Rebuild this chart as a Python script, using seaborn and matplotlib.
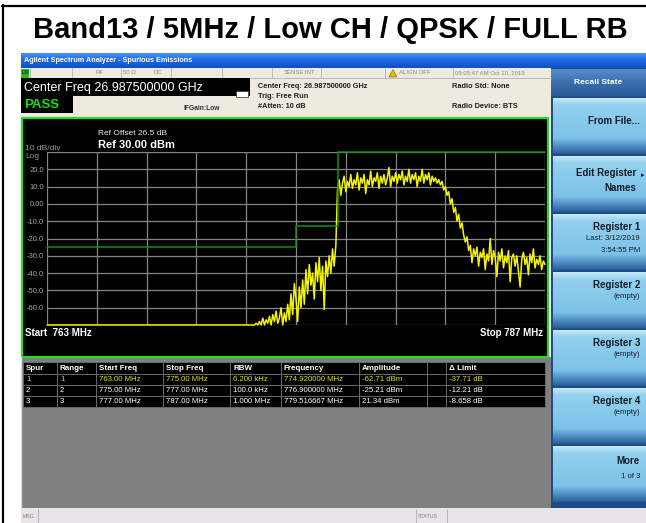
import matplotlib
matplotlib.use("Agg")
import matplotlib.pyplot as plt
from matplotlib.patches import Rectangle, Polygon
from matplotlib.colors import LinearSegmentedColormap
import numpy as np
import pandas as pd
import seaborn as sns

sns.set_style("white")
plt.rcParams['font.family'] = ['Liberation Sans', 'DejaVu Sans']

# ---- data ----
title = "Band13 / 5MHz / Low CH / QPSK / FULL RB"
start_mhz, stop_mhz = 763, 787
ref_dbm, bottom_dbm = 30, -70

# trace: flat at the screen bottom, then the rise, the channel top, the fall/tail
floor_mhz = [763.0, 773.0]
floor_dbm = [-70, -70]
rise_span = (773.0, 776.92)
rise_dbm = [-70, -69, -70, -68, -70, -66, -70, -67, -69, -65,
            -70, -64, -68, -62, -69, -66, -60, -70, -63, -68,
            -58, -67, -52, -64, -46, -55, -68, -48, -60, -44,
            -58, -38, -52, -35, -47, -40, -55, -34, -45, -31,
            -50, -36, -61, -33, -42, -30, -40, -26, -36, -24]
top_span = (777.0, 781.80)
top_dbm = [8, 14, 5, 12, 16, 7, 13, 10, 17, 9,
           14, 11, 18, 8, 15, 12, 17, 6, 14, 11,
           19, 10, 15, 13, 18, 9, 16, 12, 17, 11,
           15, 21, 10, 16, 13, 18, 12, 17, 14, 19,
           11, 16, 13, 20, 12, 17, 14, 18, 10, 16,
           13, 20, 12, 17, 14, 18, 11, 16, 13, 15,
           12]
tail_span = (781.88, 787.0)
tail_dbm = [14, 11, 13, 8, 10, 5, 7, 0, 3, -5,
            -2, -10, -6, -14, -11, -18, -22, -19, -27, -24,
            -34, -26, -30, -25, -36, -28, -31, -26, -38, -29,
            -33, -20, -35, -27, -31, -42, -28, -33, -26, -37,
            -30, -34, -27, -45, -31, -29, -36, -30, -39, -48,
            -32, -28, -35, -31, -41, -29, -34, -26, -37, -32,
            -35, -30, -38, -33, -35]

# limit line per range (dBm)
limit_mhz = [763, 775, 775, 777, 777, 787]
limit_dbm = [-25, -25, -13, -13, 30, 30]

ytick_vals = [20, 10, 0, -10, -20, -30, -40, -50, -60]
ytick_labels = ["20.0", "10.0", "0.00", "-10.0", "-20.0", "-30.0", "-40.0", "-50.0", "-60.0"]

table_cols = ["Spur", "Range", "Start Freq", "Stop Freq", "RBW", "Frequency", "Amplitude", "", "\u0394 Limit"]
table_rows = [
    ["1", "1", "763.00 MHz", "775.00 MHz", "6.200 kHz", "774.920000 MHz", "-62.71 dBm", "", "-37.71 dB"],
    ["2", "2", "775.00 MHz", "777.00 MHz", "100.0 kHz", "776.900000 MHz", "-25.21 dBm", "", "-12.21 dB"],
    ["3", "3", "777.00 MHz", "787.00 MHz", "1.000 MHz", "779.516667 MHz", "21.34 dBm", "", "-8.658 dB"],
]

softkeys = [["From File..."], ["Edit Register", "Names"],
            ["Register 1", "Last: 3/12/2019", "3:54:55 PM"],
            ["Register 2", "(empty)"], ["Register 3", "(empty)"],
            ["Register 4", "(empty)"], ["More", "1 of 3"]]

# ---- figure in screen pixels ----
W, H = 646, 523
fig = plt.figure(figsize=(W / 100, H / 100), dpi=100)
fig.patch.set_facecolor("white")
bg = fig.add_axes([0, 0, 1, 1])
bg.axis("off")


def box(x0, y0, x1, y1, fc, ec="none", lw=0, z=1):
    bg.add_patch(Rectangle((x0, y0), x1 - x0, y1 - y0, facecolor=fc, edgecolor=ec, lw=lw, zorder=z))


def grad(x0, y0, x1, y1, colors, z=1):
    cmap = LinearSegmentedColormap.from_list("g", colors)
    g = np.linspace(0, 1, 64).reshape(-1, 1)
    bg.imshow(g, cmap=cmap, extent=(x0, x1, y1, y0), aspect="auto", origin="upper",
              interpolation="bilinear", zorder=z)


def txt(x, y, s, size, color, weight="normal", ha="left", z=6):
    bg.text(x, y, s, fontsize=size, color=color, fontweight=weight, ha=ha, va="center", zorder=z)


# outer frame + title
bg.plot([2, W], [5.5, 5.5], color="black", lw=1.6, zorder=3)
bg.plot([2.5, 2.5], [5, H], color="black", lw=1.6, zorder=3)
txt(330, 30, title, 21, "black", "bold", "center")

# window title bar and status strip
grad(21, 53, W, 68, ["#4a94f4", "#1c66e0", "#0d52c6"])
txt(24, 60.5, "Agilent Spectrum Analyzer - Spurious Emissions", 5.2, "white", "bold")
box(21, 68, 551, 117, "#efeadf")
for sx in [30, 72, 121, 171, 222, 272, 321, 385, 453]:
    bg.plot([sx, sx], [68, 78], color="#b8b2a8", lw=0.6, zorder=2)
bg.plot([21, 551], [78, 78], color="#b8b2a8", lw=0.6, zorder=2)
box(21, 68.5, 29, 77.5, "#22c022", z=2)
txt(25, 73, "LXI", 3.5, "#103010", "bold", "center")
for sx, s in [(95, "RF"), (123, "50 \u03a9"), (154, "DC"), (284, "SENSE:INT"),
              (399, "ALIGN OFF"), (455, "09:05:47 AM Oct 10, 2019")]:
    txt(sx, 73, s, 4.3, "#8a8a8a")
bg.add_patch(Polygon([[389, 77], [397, 77], [393, 69.5]], closed=True, facecolor="#e0c000",
                     edgecolor="#806000", lw=0.4, zorder=3))

box(21, 78, 250, 96, "black", z=2)
txt(24, 87.5, "Center Freq 26.987500000 GHz", 9, "white")
box(21, 96, 73, 113, "black", z=2)
txt(24, 105, "PASS", 9.5, "#10e010", "bold")
txt(183, 109, "IFGain:Low", 4.8, "#303030", "bold")
box(236, 91, 248, 97, "white", "#404040", 0.6, z=3)
for sx, sy, s in [(258, 87, "Center Freq: 26.987500000 GHz"), (258, 96, "Trig: Free Run"),
                  (258, 106, "#Atten: 10 dB"), (452, 87, "Radio Std: None"),
                  (452, 106, "Radio Device: BTS")]:
    txt(sx, sy, s, 5.3, "#202020", "bold")

# graph panel
box(21.5, 117.5, 548, 357, "black", "#22dd22", 1.6, z=2)
txt(98, 133.5, "Ref Offset 26.5 dB", 6, "#e8e8e8")
txt(98, 145, "Ref 30.00 dBm", 8, "white", "bold")
txt(25, 148.5, "10 dB/div", 6, "#9a9a9a")
txt(25, 157, "Log", 6, "#9a9a9a")
txt(25, 333.5, "Start  763 MHz", 7, "white", "bold")
txt(543, 333.5, "Stop 787 MHz", 7, "white", "bold", "right")

# spur table + grey area
box(21, 357, 551, 508, "#808080")
bg.plot([21, 21], [357, 508], color="#d8d8d8", lw=1, zorder=2)
col_edges = [23, 57, 96, 163, 230, 281, 359, 427, 446, 545]
row_edges = [362, 374, 385, 396, 407]
for r in range(4):
    for c in range(9):
        box(col_edges[c], row_edges[r], col_edges[c + 1], row_edges[r + 1], "black", "#707070", 0.6, z=2)
for c, s in enumerate(table_cols):
    txt(col_edges[c] + 3, (row_edges[0] + row_edges[1]) / 2, s, 5.8, "white", "bold")
for r, row in enumerate(table_rows):
    colr = "#e2e200" if r == 0 else "white"
    for c, s in enumerate(row):
        txt(col_edges[c] + 3, (row_edges[r + 1] + row_edges[r + 2]) / 2, s, 5.6, colr)

# bottom message bar
box(21, 508, W, H, "#e8e4e8")
for sx in [38, 416, 447]:
    bg.plot([sx, sx], [509, H], color="#b0acb0", lw=0.6, zorder=2)
txt(23, 516, "MSG", 3.8, "#808080")
txt(418, 516, "STATUS", 3.8, "#808080")

# softkey panel
box(551, 68, W, 508, "#1f4c86")
grad(551, 69, W, 96, ["#5a8fcc", "#3a6eae", "#2b5c98"])
txt(598, 83, "Recall State", 6, "white", "bold", "center")
key_shade = [(0.0, "#c4eafa"), (0.12, "#94d0ee"), (0.72, "#7cc2e8"),
             (0.82, "#5c9ed2"), (1.0, "#2a5e98")]
for i, lines in enumerate(softkeys):
    top = 97 + 58 * i
    grad(553, top + 1, W, top + 57, key_shade)
    if len(lines) == 1:
        txt(640, top + 24, lines[0], 7, "#141c28", "bold", "right")
    elif lines[0].startswith("Edit"):
        txt(636, top + 18, lines[0], 7, "#141c28", "bold", "right")
        txt(636, top + 33, lines[1], 7, "#141c28", "bold", "right")
        txt(643, top + 21, "\u25b8", 5, "#141c28", "normal", "center")
    elif lines[0] == "More":
        txt(640, top + 16, lines[0], 7, "#141c28", "bold", "right")
        txt(640, top + 31, lines[1], 5.6, "#141c28", "normal", "right")
    else:
        txt(640, top + 14, lines[0], 7, "#141c28", "bold", "right")
        for k, s in enumerate(lines[1:]):
            txt(640, top + 26 + 11 * k, s, 5.6, "#141c28", "normal", "right")

bg.set_xlim(0, W)
bg.set_ylim(H, 0)

# ---- the spectrum plot itself ----
ax = fig.add_axes([47 / W, 1 - 325 / H, 498 / W, 173 / H], zorder=3)
ax.set_facecolor("black")

trace = pd.concat([
    pd.DataFrame({"mhz": floor_mhz, "dbm": floor_dbm}),
    pd.DataFrame({"mhz": np.linspace(*rise_span, len(rise_dbm)), "dbm": rise_dbm}),
    pd.DataFrame({"mhz": np.linspace(*top_span, len(top_dbm)), "dbm": top_dbm}),
    pd.DataFrame({"mhz": np.linspace(*tail_span, len(tail_dbm)), "dbm": tail_dbm}),
], ignore_index=True)
limit = pd.DataFrame({"mhz": limit_mhz, "dbm": limit_dbm})

sns.lineplot(data=trace, x="mhz", y="dbm", ax=ax, estimator=None, sort=False,
             color="#f4f400", lw=1.1)
sns.lineplot(data=limit, x="mhz", y="dbm", ax=ax, estimator=None, sort=False,
             color="#109010", lw=1.1)
for ln in ax.lines:
    ln.set_clip_on(False)
    ln.set_zorder(4)

ax.set_xlim(start_mhz, stop_mhz)
ax.set_ylim(bottom_dbm, ref_dbm)
ax.set_xticks(np.linspace(start_mhz, stop_mhz, 11))
ax.set_xticklabels([])
ax.set_yticks(list(range(bottom_dbm, ref_dbm + 1, 10)))
ax.set_yticklabels([""] + ytick_labels[::-1] + [""])
ax.grid(True, color="#858585", lw=0.9)
ax.set_axisbelow(True)
ax.tick_params(length=0, pad=2, labelsize=5.5, labelcolor="#a8a8a8")
ax.set_xlabel("")
ax.set_ylabel("")
for sp in ax.spines.values():
    sp.set_visible(False)

fig.savefig("out.png", dpi=100, facecolor="white")
